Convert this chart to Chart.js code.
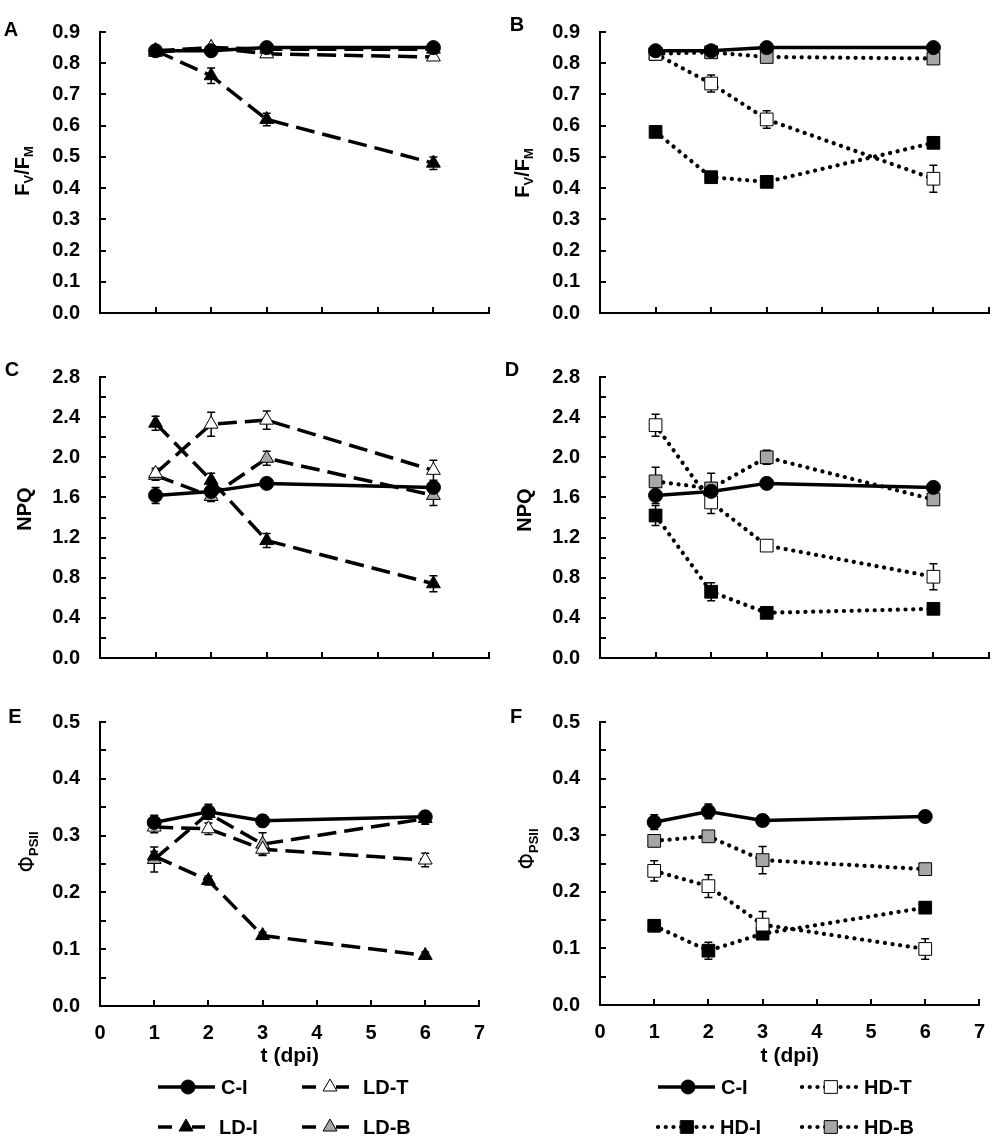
<!DOCTYPE html>
<html>
<head>
<meta charset="utf-8">
<title>Fv/Fm, NPQ and PhiPSII after inoculation</title>
<script src="https://cdn.jsdelivr.net/npm/chart.js@4.4.1/dist/chart.umd.min.js"></script>
<style>
  html, body { margin: 0; padding: 0; background: #fff; }
  #figure { position: relative; width: 1000px; height: 1139px; font-family: "Liberation Sans", Arial, sans-serif; font-weight: bold; color: #000; }
  #figure canvas { position: absolute; }
  .letter { position: absolute; font-size: 20px; line-height: 20px; transform: translate(-50%, -50%); }
  .ytitle { position: absolute; font-size: 20px; line-height: 20px; white-space: nowrap; transform: translate(-50%, -50%) rotate(-90deg); }
  .ytitle sub { font-size: 13px; line-height: 0; vertical-align: -4px; }
  .ytitle .phi { font-weight: normal; font-family: "DejaVu Sans", sans-serif; font-size: 21px; }
</style>
</head>
<body>
<div id="figure">
  <canvas id="chartA" width="500" height="345" style="left:0;top:0"></canvas>
  <canvas id="chartB" width="500" height="345" style="left:500px;top:0"></canvas>
  <canvas id="chartC" width="500" height="345" style="left:0;top:345px"></canvas>
  <canvas id="chartD" width="500" height="345" style="left:500px;top:345px"></canvas>
  <canvas id="chartE" width="500" height="449" style="left:0;top:690px"></canvas>
  <canvas id="chartF" width="500" height="449" style="left:500px;top:690px"></canvas>

  <div class="letter" style="left:11px;top:29px">A</div>
  <div class="letter" style="left:517px;top:24px">B</div>
  <div class="letter" style="left:12px;top:369px">C</div>
  <div class="letter" style="left:512px;top:369px">D</div>
  <div class="letter" style="left:15px;top:716px">E</div>
  <div class="letter" style="left:516px;top:716px">F</div>

  <div class="ytitle" style="left:22px;top:171px">F<sub>V</sub>/F<sub>M</sub></div>
  <div class="ytitle" style="left:522px;top:173px">F<sub>V</sub>/F<sub>M</sub></div>
  <div class="ytitle" style="left:24px;top:509px">NPQ</div>
  <div class="ytitle" style="left:524px;top:510px">NPQ</div>
  <div class="ytitle" style="left:27px;top:852px"><span class="phi">Φ</span><sub>PSII</sub></div>
  <div class="ytitle" style="left:527px;top:849px"><span class="phi">Φ</span><sub>PSII</sub></div>
</div>

<script>
// sampling days (dpi)
const days = [1, 2, 3, 6];

// Fv/Fm (panels A, B)
const fvfmCI = [0.84, 0.84, 0.85, 0.85];
const fvfmCIErr = [0.005, 0.005, 0.005, 0.005];
const fvfmLDT = [0.84, 0.85, 0.83, 0.82];
const fvfmLDTErr = [0.005, 0.005, 0.01, 0.01];
const fvfmLDI = [0.84, 0.76, 0.62, 0.48];
const fvfmLDIErr = [0.005, 0.025, 0.02, 0.02];
const fvfmLDB = [0.835, 0.85, 0.845, 0.845];
const fvfmLDBErr = [0.005, 0.005, 0.005, 0.005];
const fvfmHDT = [0.83, 0.735, 0.62, 0.43];
const fvfmHDTErr = [0.005, 0.027, 0.028, 0.043];
const fvfmHDI = [0.58, 0.435, 0.42, 0.545];
const fvfmHDIErr = [0.008, 0.012, 0.008, 0.008];
const fvfmHDB = [0.83, 0.835, 0.82, 0.815];
const fvfmHDBErr = [0.005, 0.005, 0.005, 0.005];

// NPQ (panels C, D)
const npqCI = [1.62, 1.66, 1.74, 1.70];
const npqCIErr = [0.08, 0.05, 0.05, 0.05];
const npqLDT = [1.84, 2.33, 2.37, 1.87];
const npqLDTErr = [0.05, 0.12, 0.09, 0.1];
const npqLDI = [2.34, 1.77, 1.17, 0.74];
const npqLDIErr = [0.07, 0.07, 0.07, 0.08];
const npqLDB = [1.82, 1.61, 1.99, 1.62];
const npqLDBErr = [0.05, 0.05, 0.07, 0.1];
const npqHDT = [2.32, 1.55, 1.12, 0.81];
const npqHDTErr = [0.11, 0.11, 0.03, 0.13];
const npqHDI = [1.42, 0.66, 0.45, 0.49];
const npqHDIErr = [0.1, 0.09, 0.03, 0.03];
const npqHDB = [1.76, 1.69, 2.00, 1.58];
const npqHDBErr = [0.14, 0.15, 0.07, 0.03];

// PhiPSII (panels E, F)
const phiCI = [0.323, 0.342, 0.326, 0.333];
const phiCIErr = [0.013, 0.013, 0.01, 0.01];
const phiLDT = [0.315, 0.312, 0.276, 0.257];
const phiLDTErr = [0.01, 0.01, 0.01, 0.012];
const phiLDI = [0.264, 0.221, 0.124, 0.089];
const phiLDIErr = [0.008, 0.008, 0.006, 0.006];
const phiLDB = [0.258, 0.339, 0.285, 0.330];
const phiLDBErr = [0.022, 0.01, 0.02, 0.01];
const phiHDT = [0.237, 0.210, 0.142, 0.099];
const phiHDTErr = [0.018, 0.02, 0.023, 0.018];
const phiHDI = [0.140, 0.096, 0.126, 0.172];
const phiHDIErr = [0.01, 0.015, 0.01, 0.01];
const phiHDB = [0.290, 0.298, 0.256, 0.240];
const phiHDBErr = [0.01, 0.005, 0.024, 0.01];

const FONT = '"Liberation Sans", Arial, sans-serif';
const GREY = '#a6a6a6';
const DASHED = [19, 8];
const DOTTED = [0.1, 7.6];

// legend sample shapes: line pieces (from/to), marker and text offsets
const SOLID_KEY = { segs: [[0, 57]], marker: 30, text: 63 };
const DASH_KEY = { segs: [[0, 14], [34, 47]], marker: 28, text: 61 };
const DOT_KEY = { segs: [[0, 55]], marker: 29, text: 62 };

// line / marker look of each treatment
const STYLE = {
    'C-I':  { dash: [],     width: 3.5, cap: 'butt',  shape: 'circle',   radius: 7,   fill: '#000', key: SOLID_KEY },
    'LD-T': { dash: DASHED, width: 3.5, cap: 'butt',  shape: 'triangle', radius: 8,   fill: '#fff', key: DASH_KEY },
    'LD-I': { dash: DASHED, width: 3.5, cap: 'butt',  shape: 'triangle', radius: 8,   fill: '#000', key: DASH_KEY },
    'LD-B': { dash: DASHED, width: 3.5, cap: 'butt',  shape: 'triangle', radius: 8,   fill: GREY,   key: DASH_KEY },
    'HD-T': { dash: DOTTED, width: 4.2, cap: 'round', shape: 'rect',     radius: 9,   fill: '#fff', key: DOT_KEY },
    'HD-I': { dash: DOTTED, width: 4.2, cap: 'round', shape: 'rect',     radius: 9,   fill: '#000', key: DOT_KEY },
    'HD-B': { dash: DOTTED, width: 4.2, cap: 'round', shape: 'rect',     radius: 9,   fill: GREY,   key: DOT_KEY }
};

function series(label, values, errors) {
    const s = STYLE[label];
    return {
        label: label,
        data: days.map((d, i) => ({ x: d, y: values[i] })),
        errors: errors,
        borderColor: '#000',
        borderWidth: s.width,
        borderDash: s.dash,
        borderCapStyle: s.cap,
        tension: 0,
        pointStyle: s.shape,
        pointRadius: s.radius,
        pointBackgroundColor: s.fill,
        pointBorderColor: '#000',
        pointBorderWidth: 1
    };
}

// same geometry as Chart.js point styles, used for the legend samples
function drawMarker(ctx, shape, r, x, y) {
    ctx.beginPath();
    if (shape === 'circle') {
        ctx.arc(x, y, r, 0, Math.PI * 2);
    } else if (shape === 'triangle') {
        ctx.moveTo(x, y - r);
        ctx.lineTo(x + Math.sin(Math.PI * 2 / 3) * r, y - Math.cos(Math.PI * 2 / 3) * r);
        ctx.lineTo(x + Math.sin(Math.PI * 4 / 3) * r, y - Math.cos(Math.PI * 4 / 3) * r);
        ctx.closePath();
    } else {
        const h = Math.SQRT1_2 * r;
        ctx.rect(x - h, y - h, 2 * h, 2 * h);
    }
    ctx.fill();
    ctx.stroke();
}

// error bars, drawn under lines and markers
const errorBars = {
    id: 'errorBars',
    beforeDatasetsDraw(chart) {
        const { ctx, scales: { x, y } } = chart;
        ctx.save();
        ctx.strokeStyle = '#000';
        ctx.lineWidth = 1.5;
        chart.data.datasets.forEach(ds => {
            if (!ds.errors) return;
            ds.data.forEach((p, i) => {
                const e = ds.errors[i];
                if (!e) return;
                const px = x.getPixelForValue(p.x);
                const top = y.getPixelForValue(p.y + e);
                const bot = y.getPixelForValue(p.y - e);
                ctx.beginPath();
                ctx.moveTo(px, top); ctx.lineTo(px, bot);
                ctx.moveTo(px - 4, top); ctx.lineTo(px + 4, top);
                ctx.moveTo(px - 4, bot); ctx.lineTo(px + 4, bot);
                ctx.stroke();
            });
        });
        ctx.restore();
    }
};

// tick marks pointing into the plot area
const innerTicks = {
    id: 'innerTicks',
    beforeDatasetsDraw(chart) {
        const { ctx, chartArea, scales: { x, y } } = chart;
        ctx.save();
        ctx.strokeStyle = '#000';
        ctx.lineWidth = 2;
        ctx.beginPath();
        y.ticks.forEach(t => {
            const py = Math.round(y.getPixelForValue(t.value));
            ctx.moveTo(chartArea.left, py);
            ctx.lineTo(chartArea.left + 6, py);
        });
        x.ticks.forEach(t => {
            const px = Math.round(x.getPixelForValue(t.value));
            ctx.moveTo(px, chartArea.bottom);
            ctx.lineTo(px, chartArea.bottom - 6);
        });
        ctx.stroke();
        ctx.restore();
    }
};

// 2 x 2 legend with line + marker samples under the bottom panels
const sampleLegend = {
    id: 'sampleLegend',
    afterDraw(chart, args, opts) {
        if (!opts.show) return;
        const ctx = chart.ctx;
        chart.data.datasets.forEach((ds, i) => {
            const x0 = opts.cols[i % 2];
            const y0 = opts.rows[Math.floor(i / 2)];
            const s = STYLE[ds.label];
            ctx.save();
            ctx.strokeStyle = '#000';
            ctx.lineWidth = ds.borderWidth;
            ctx.lineCap = ds.borderCapStyle;
            ctx.setLineDash(s.dash === DOTTED ? DOTTED : []);
            ctx.beginPath();
            s.key.segs.forEach(([a, b]) => {
                ctx.moveTo(x0 + a, y0);
                ctx.lineTo(x0 + b, y0);
            });
            ctx.stroke();
            ctx.setLineDash([]);
            ctx.lineWidth = 1;
            ctx.fillStyle = s.fill;
            drawMarker(ctx, s.shape, s.radius, x0 + s.key.marker, y0);
            ctx.fillStyle = '#000';
            ctx.font = 'bold 20px ' + FONT;
            ctx.textBaseline = 'middle';
            ctx.textAlign = 'left';
            ctx.fillText(ds.label, x0 + s.key.text, y0 + 1);
            ctx.restore();
        });
    }
};

function makePanel(canvasId, p, datasets) {
    const isMajor = v => Math.abs(v / p.major - Math.round(v / p.major)) < 1e-6;
    return new Chart(document.getElementById(canvasId), {
        type: 'line',
        data: { datasets: datasets },
        options: {
            responsive: false,
            animation: false,
            layout: { padding: { top: p.top, right: 11, bottom: p.legend ? 70 : 0, left: 0 } },
            plugins: {
                legend: { display: false },
                tooltip: { enabled: false },
                sampleLegend: { show: p.legend, cols: [158, 302], rows: [397, 437] }
            },
            scales: {
                x: {
                    type: 'linear',
                    min: 0,
                    max: 7,
                    grid: { display: false, drawTicks: false },
                    border: { display: true, color: '#000', width: 2 },
                    ticks: {
                        display: p.showX,
                        stepSize: 1,
                        padding: 15,
                        color: '#000',
                        font: { family: FONT, size: 20, weight: 'bold' }
                    },
                    title: {
                        display: p.showX,
                        text: 't (dpi)',
                        color: '#000',
                        padding: { top: 0, bottom: 0 },
                        font: { family: FONT, size: 21, weight: 'bold' }
                    },
                    afterFit: s => { s.height = p.xHeight; }
                },
                y: {
                    min: 0,
                    max: p.yMax,
                    grid: { display: false, drawTicks: false },
                    border: { display: true, color: '#000', width: 2 },
                    ticks: {
                        stepSize: p.step,
                        autoSkip: false,
                        padding: 20,
                        color: '#000',
                        font: { family: FONT, size: 20, weight: 'bold' },
                        callback: v => isMajor(v) ? v.toFixed(1) : ''
                    },
                    afterFit: s => { s.width = 100; }
                }
            }
        },
        plugins: [innerTicks, errorBars, sampleLegend]
    });
}

makePanel('chartA', { yMax: 0.9, step: 0.1, major: 0.1, top: 13, xHeight: 14, showX: false, legend: false }, [
    series('C-I', fvfmCI, fvfmCIErr),
    series('LD-T', fvfmLDT, fvfmLDTErr),
    series('LD-I', fvfmLDI, fvfmLDIErr),
    series('LD-B', fvfmLDB, fvfmLDBErr)
]);
makePanel('chartB', { yMax: 0.9, step: 0.1, major: 0.1, top: 15, xHeight: 12, showX: false, legend: false }, [
    series('C-I', fvfmCI, fvfmCIErr),
    series('HD-T', fvfmHDT, fvfmHDTErr),
    series('HD-I', fvfmHDI, fvfmHDIErr),
    series('HD-B', fvfmHDB, fvfmHDBErr)
]);
makePanel('chartC', { yMax: 2.8, step: 0.2, major: 0.4, top: 12, xHeight: 16, showX: false, legend: false }, [
    series('C-I', npqCI, npqCIErr),
    series('LD-T', npqLDT, npqLDTErr),
    series('LD-I', npqLDI, npqLDIErr),
    series('LD-B', npqLDB, npqLDBErr)
]);
makePanel('chartD', { yMax: 2.8, step: 0.2, major: 0.4, top: 13, xHeight: 16, showX: false, legend: false }, [
    series('C-I', npqCI, npqCIErr),
    series('HD-T', npqHDT, npqHDTErr),
    series('HD-I', npqHDI, npqHDIErr),
    series('HD-B', npqHDB, npqHDBErr)
]);
makePanel('chartE', { yMax: 0.5, step: 0.05, major: 0.1, top: 13, xHeight: 63, showX: true, legend: true }, [
    series('C-I', phiCI, phiCIErr),
    series('LD-T', phiLDT, phiLDTErr),
    series('LD-I', phiLDI, phiLDIErr),
    series('LD-B', phiLDB, phiLDBErr)
]);
makePanel('chartF', { yMax: 0.5, step: 0.05, major: 0.1, top: 14, xHeight: 64, showX: true, legend: true }, [
    series('C-I', phiCI, phiCIErr),
    series('HD-T', phiHDT, phiHDTErr),
    series('HD-I', phiHDI, phiHDIErr),
    series('HD-B', phiHDB, phiHDBErr)
]);
</script>
</body>
</html>
